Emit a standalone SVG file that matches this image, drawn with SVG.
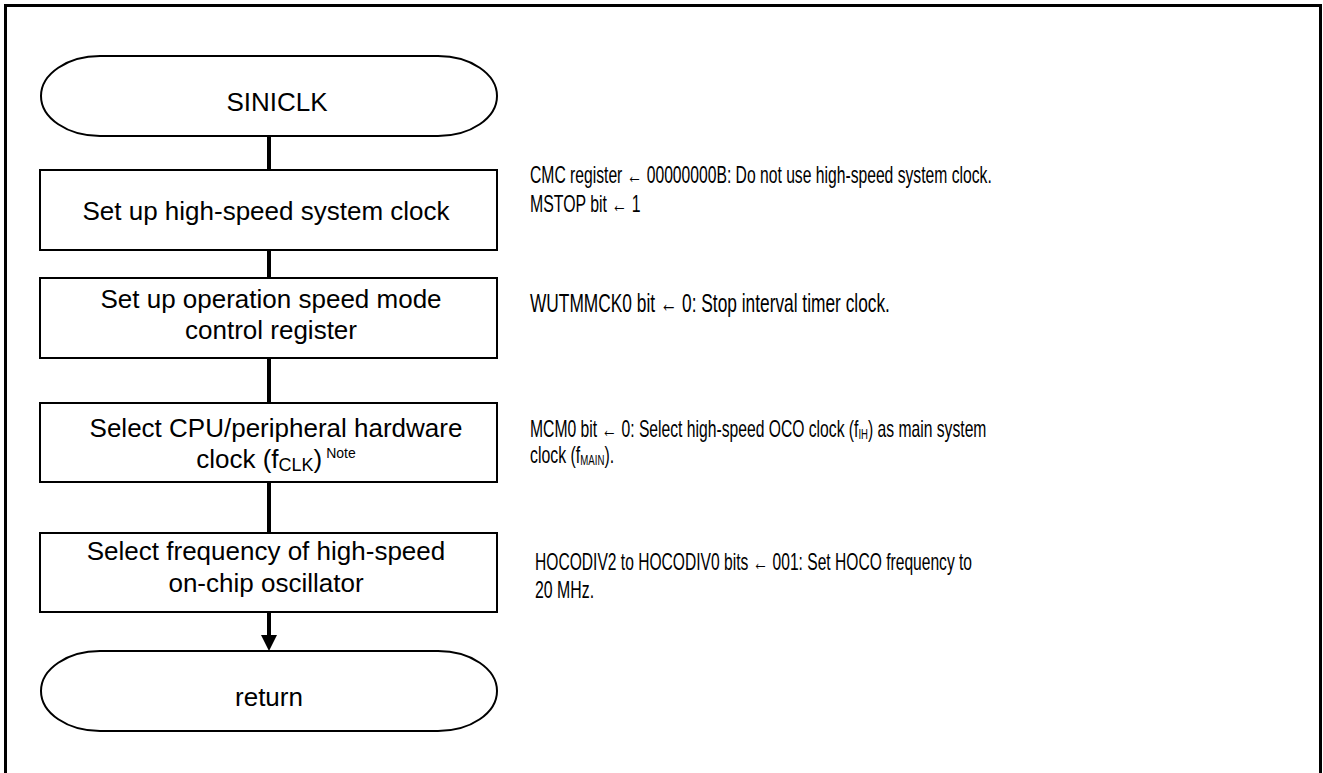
<svg xmlns="http://www.w3.org/2000/svg" width="1323" height="773" viewBox="0 0 1323 773">
<defs>
<style>
.frame{fill:none;stroke:#000;stroke-width:3}
.box{fill:#fff;stroke:#000;stroke-width:2}
.term{fill:#fff;stroke:#000;stroke-width:2}
.conn{stroke:#000;stroke-width:4;fill:none}
.t{font-family:"Liberation Sans",Arial,sans-serif;font-size:26px;fill:#000;text-anchor:middle}
.n{font-family:"Liberation Sans",Arial,sans-serif;font-size:23px;fill:#000}
</style>
</defs>
<rect width="1323" height="773" fill="#fff"/>
<rect class="frame" x="5.5" y="5.5" width="1315" height="790"/>
<g id="connectors">
<line class="conn" x1="269" y1="136" x2="269" y2="170"/>
<line class="conn" x1="269" y1="250" x2="269" y2="278"/>
<line class="conn" x1="269" y1="358" x2="269" y2="403"/>
<line class="conn" x1="269" y1="482" x2="269" y2="533"/>
<line class="conn" x1="269" y1="612" x2="269" y2="636"/>
<path d="M261,635 L277,635 L269,651 Z" fill="#000"/>
</g>
<g id="start">
<path class="term" d="M100,56 H438 A59,40 0 0 1 438,136 H100 A59,40 0 0 1 100,56 Z"/>
<text class="t" x="277" y="111">SINICLK</text>
</g>
<g id="box1">
<rect class="box" x="40" y="170" width="457" height="80"/>
<text class="t" x="266" y="220">Set up high-speed system clock</text>
</g>
<g id="box2">
<rect class="box" x="40" y="278" width="457" height="80"/>
<text class="t" x="271" y="308">Set up operation speed mode</text>
<text class="t" x="271" y="339">control register</text>
</g>
<g id="box3">
<rect class="box" x="40" y="403" width="457" height="79"/>
<text class="t" x="276" y="437">Select CPU/peripheral hardware</text>
<text class="t" x="276" y="468">clock (f<tspan font-size="18" dy="3">CLK</tspan><tspan dy="-3">)</tspan><tspan font-size="14" dy="-10"> Note</tspan></text>
</g>
<g id="box4">
<rect class="box" x="40" y="533" width="457" height="79"/>
<text class="t" x="266" y="560">Select frequency of high-speed</text>
<text class="t" x="266" y="592">on-chip oscillator</text>
</g>
<g id="end">
<path class="term" d="M100,651 H438 A59,40 0 0 1 438,731 H100 A59,40 0 0 1 100,651 Z"/>
<text class="t" x="269" y="706">return</text>
</g>
<g id="notes">
<text class="n" transform="translate(530,183) scale(0.682,1)">CMC register ← 00000000B: Do not use high-speed system clock.</text>
<text class="n" transform="translate(530,212) scale(0.69,1)">MSTOP bit ← 1</text>
<text class="n" font-size="25" style="font-size:25px" transform="translate(530,312) scale(0.693,1)">WUTMMCK0 bit ← 0: Stop interval timer clock.</text>
<text class="n" transform="translate(530,437) scale(0.682,1)">MCM0 bit ← 0: Select high-speed OCO clock (f<tspan font-size="14" dy="2">IH</tspan><tspan dy="-2">) as main system</tspan></text>
<text class="n" transform="translate(530,463) scale(0.69,1)">clock (f<tspan font-size="14" dy="2">MAIN</tspan><tspan dy="-2">).</tspan></text>
<text class="n" transform="translate(535,570) scale(0.679,1)">HOCODIV2 to HOCODIV0 bits ← 001: Set HOCO frequency to</text>
<text class="n" transform="translate(535,598) scale(0.69,1)">20 MHz.</text>
</g>
</svg>
